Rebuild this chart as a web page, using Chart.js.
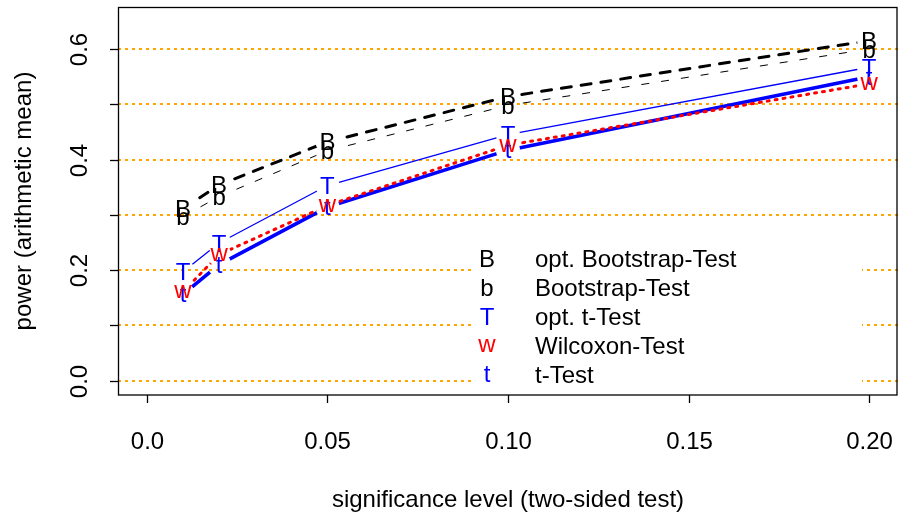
<!DOCTYPE html>
<html>
<head>
<meta charset="utf-8">
<script src="https://cdn.jsdelivr.net/npm/chart.js@4.4.1/dist/chart.umd.min.js"></script>
<style>
  html, body { margin: 0; padding: 0; background: #fff; }
</style>
</head>
<body>
<canvas id="powerChart" width="898" height="512"></canvas>
<script>
// significance levels and mean power of each test
const levels = [0.01, 0.02, 0.05, 0.10, 0.20];
const optBootstrap = [0.311, 0.354, 0.432, 0.514, 0.615];
const bootstrap = [0.297, 0.333, 0.416, 0.498, 0.600];
const optTTest = [0.197, 0.249, 0.353, 0.445, 0.567];
const wilcoxon = [0.161, 0.228, 0.317, 0.426, 0.537];
const tTest = [0.156, 0.210, 0.314, 0.417, 0.550];

const xTicks = [0, 0.05, 0.10, 0.15, 0.20];
const xTickLabels = ['0.0', '0.05', '0.10', '0.15', '0.20'];
const yTicks = [0, 0.1, 0.2, 0.3, 0.4, 0.5, 0.6];
const yTickLabels = ['0.0', '', '0.2', '', '0.4', '', '0.6'];

const FONT = '"Liberation Sans", Arial, sans-serif';
const GAP = 12;

// legend order; layer decides what is painted on top
const series = [
  { label: 'opt. Bootstrap-Test', pch: 'B', values: optBootstrap, color: '#000000', width: 3, dash: [10, 10], cap: 'round', layer: 0 },
  { label: 'Bootstrap-Test',      pch: 'b', values: bootstrap,    color: '#000000', width: 1, dash: [8, 12],  cap: 'butt',  layer: 1 },
  { label: 'opt. t-Test',         pch: 'T', values: optTTest,     color: '#0000FF', width: 1.3, dash: [],     cap: 'butt',  layer: 2 },
  { label: 'Wilcoxon-Test',       pch: 'w', values: wilcoxon,     color: '#FF0000', width: 3, dash: [2, 6],   cap: 'round', layer: 4 },
  { label: 't-Test',              pch: 't', values: tTest,        color: '#0000FF', width: 3.6, dash: [],     cap: 'butt',  layer: 3 }
];

function glyph(ctx, ch, x, y) {
  // centre the glyph's ink box on (x, y)
  const m = ctx.measureText(ch);
  ctx.fillText(ch, x, y + (m.actualBoundingBoxAscent - m.actualBoundingBoxDescent) / 2);
}

const rPlot = {
  id: 'rPlot',
  beforeDatasetsDraw(chart) {
    const { ctx, chartArea: a, scales: { y } } = chart;
    ctx.save();
    ctx.strokeStyle = '#FFA500';
    ctx.lineWidth = 2;
    ctx.setLineDash([3, 4]);
    yTicks.forEach(v => {
      const py = Math.round(y.getPixelForValue(v));
      ctx.beginPath();
      ctx.moveTo(a.left, py);
      ctx.lineTo(a.right, py);
      ctx.stroke();
    });
    ctx.restore();
  },
  beforeDatasetDraw(chart, args) {
    // leave a gap round each point, like type = "b"
    const ctx = chart.ctx;
    ctx.save();
    ctx.beginPath();
    ctx.rect(0, 0, chart.width, chart.height);
    args.meta.data.forEach(pt => {
      ctx.moveTo(pt.x + GAP, pt.y);
      ctx.arc(pt.x, pt.y, GAP, 0, Math.PI * 2);
    });
    ctx.clip('evenodd');
  },
  afterDatasetDraw(chart, args) {
    const ctx = chart.ctx;
    ctx.restore();
    const s = series[args.index];
    ctx.save();
    ctx.fillStyle = s.color;
    ctx.font = '24px ' + FONT;
    ctx.textAlign = 'center';
    ctx.textBaseline = 'alphabetic';
    args.meta.data.forEach(pt => glyph(ctx, s.pch, pt.x, pt.y));
    ctx.restore();
  },
  afterDraw(chart) {
    const { ctx, chartArea: a, scales: { x, y } } = chart;
    ctx.save();
    ctx.strokeStyle = '#000';
    ctx.fillStyle = '#000';
    ctx.lineWidth = 1.3;
    ctx.setLineDash([]);

    // frame
    ctx.strokeRect(a.left + 0.5, a.top + 0.5, a.right - a.left - 1.5, a.bottom - a.top - 0.5);

    // x axis
    ctx.font = '24px ' + FONT;
    ctx.textAlign = 'center';
    ctx.textBaseline = 'alphabetic';
    xTicks.forEach((v, i) => {
      const px = Math.round(x.getPixelForValue(v)) + 0.5;
      ctx.beginPath();
      ctx.moveTo(px, a.bottom);
      ctx.lineTo(px, a.bottom + 8);
      ctx.stroke();
      ctx.fillText(xTickLabels[i], px, 449);
    });
    ctx.fillText('significance level (two-sided test)', (a.left + a.right) / 2, 507);

    // y axis
    yTicks.forEach((v, i) => {
      const py = Math.round(y.getPixelForValue(v)) + 0.5;
      ctx.beginPath();
      ctx.moveTo(a.left - 8, py);
      ctx.lineTo(a.left, py);
      ctx.stroke();
      if (yTickLabels[i]) {
        ctx.save();
        ctx.translate(86.5, py);
        ctx.rotate(-Math.PI / 2);
        ctx.fillText(yTickLabels[i], 0, 0);
        ctx.restore();
      }
    });
    ctx.save();
    ctx.translate(31, (a.top + a.bottom) / 2);
    ctx.rotate(-Math.PI / 2);
    ctx.fillText('power (arithmetic mean)', 0, 0);
    ctx.restore();

    // legend
    ctx.fillStyle = '#fff';
    ctx.fillRect(472, 241, 390, 151);
    series.forEach((s, i) => {
      const ry = 258 + i * 29;
      ctx.fillStyle = s.color;
      ctx.textAlign = 'center';
      glyph(ctx, s.pch, 487, ry);
      ctx.fillStyle = '#000';
      ctx.textAlign = 'left';
      ctx.fillText(s.label, 535, ry + 8.6);
    });
    ctx.restore();
  }
};

new Chart(document.getElementById('powerChart'), {
  type: 'line',
  data: {
    datasets: series.map(s => ({
      label: s.label,
      data: levels.map((lv, i) => ({ x: lv, y: s.values[i] })),
      borderColor: s.color,
      borderWidth: s.width,
      borderDash: s.dash,
      borderCapStyle: s.cap,
      borderJoinStyle: 'round',
      pointRadius: 0,
      tension: 0,
      fill: false,
      order: series.length - s.layer
    }))
  },
  options: {
    responsive: false,
    animation: false,
    events: [],
    layout: { padding: { top: 7, right: 0, left: 0, bottom: 0 } },
    plugins: { legend: { display: false }, tooltip: { enabled: false } },
    scales: {
      x: {
        type: 'linear', min: -0.008, max: 0.208,
        ticks: { display: false }, grid: { display: false }, border: { display: false },
        afterFit: s => { s.height = 117; }
      },
      y: {
        type: 'linear', min: -0.026, max: 0.676,
        ticks: { display: false }, grid: { display: false }, border: { display: false },
        afterFit: s => { s.width = 118; }
      }
    }
  },
  plugins: [rPlot]
});
</script>
</body>
</html>
